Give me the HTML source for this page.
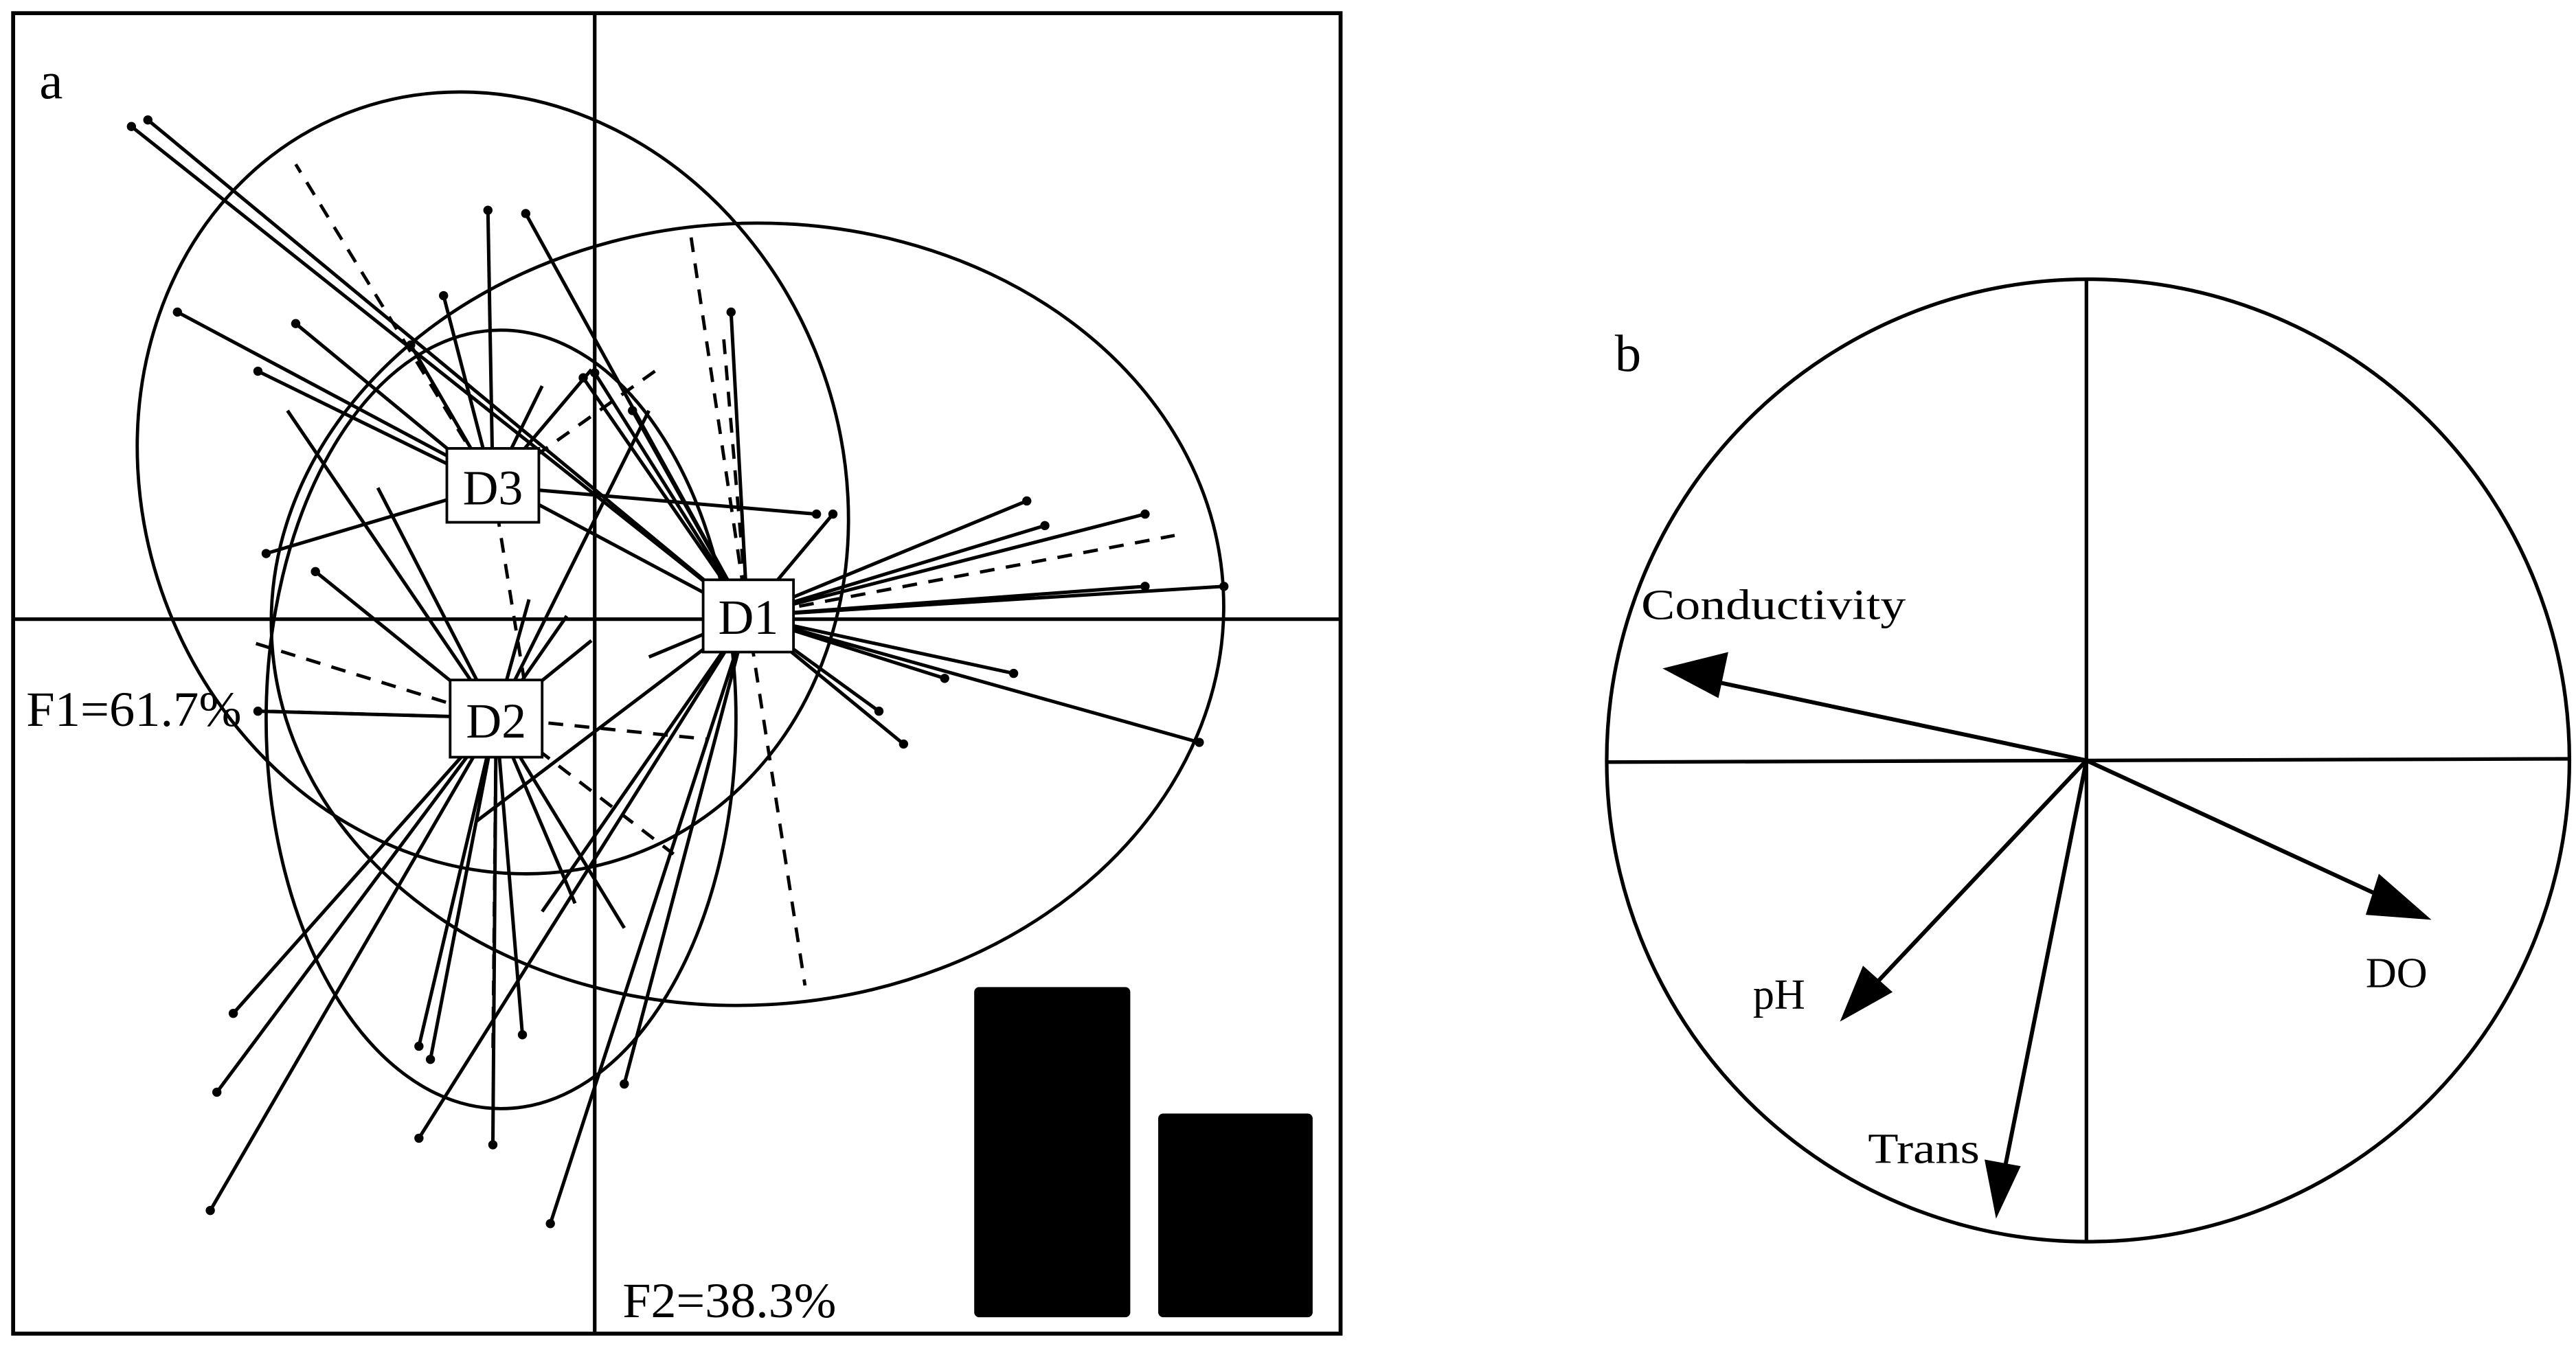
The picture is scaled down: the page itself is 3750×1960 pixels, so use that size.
<!DOCTYPE html>
<html><head><meta charset="utf-8"><style>
html,body{margin:0;padding:0;background:#fff;}
svg{display:block;}
text{font-family:"Liberation Serif",serif;fill:#000;}
</style></head><body>
<svg width="3750" height="1960" viewBox="0 0 1568 819.5" xmlns="http://www.w3.org/2000/svg">
<rect x="0" y="0" width="1568" height="819.5" fill="#fff"/>
<!-- Panel a -->
<rect x="8" y="8" width="808" height="804" fill="none" stroke="#000" stroke-width="2.4"/>
<line x1="362" y1="8" x2="362" y2="812" stroke="#000" stroke-width="2.2"/>
<line x1="8" y1="377" x2="816" y2="377" stroke="#000" stroke-width="2.2"/>
<text x="24" y="60" font-size="32">a</text>

<g fill="none" stroke="#000" stroke-width="2">
<ellipse cx="455" cy="374" rx="290" ry="238" transform="rotate(-3 455 374)"/>
<ellipse cx="300" cy="294" rx="212" ry="242" transform="rotate(-22 300 294)"/>
<ellipse cx="305" cy="438" rx="143" ry="237"/>
</g>

<g stroke="#000" stroke-width="2.1" fill="none">
<path d="M455 375L625 305M455 375L636 320M455 375L697 313M455 375L697 357M455 375L745 357M455 375L730 452M455 375L617 410M455 375L575 413M455 375L550 453M455 375L535 433M455 375L507 313M455 375L445 190M455 375L320 130M455 375L80 77M455 375L90 73M455 375L108 190M455 375L355 230M455 375L385 250M455 375L362 227M455 375L395 400M455 375L330 555M455 375L255 693M455 375L335 745M455 375L380 660M455 375L290 500"/>
<path d="M300 296L157 226M300 296L162 337M300 296L180 197M300 296L270 180M300 296L297 128M300 296L497 313M300 296L330 235M300 296L250 210M300 296L360 225"/>
<path d="M302 437L142 617M302 437L132 665M302 437L128 737M302 437L255 637M302 437L262 645M302 437L300 697M302 437L318 630M302 437L157 433M302 437L175 250M302 437L230 297M302 437L192 348M302 437L322 365M302 437L360 390M302 437L395 250M302 437L380 565M302 437L345 375M302 437L350 550"/>
</g>
<g stroke="#000" stroke-width="2" fill="none" stroke-dasharray="9 7">
<path d="M455 375L715 326M455 375L490 600M455 375L420 140M455 375L440 200M300 296L180 100M300 296L400 225M302 437L300 645M302 437L150 390M302 437L160 433M302 437L430 450M302 437L410 520M300 296L320 420"/>
</g>
<g fill="#000">
<circle cx="625" cy="305" r="2.8"/><circle cx="636" cy="320" r="2.8"/><circle cx="697" cy="313" r="2.8"/><circle cx="697" cy="357" r="2.8"/><circle cx="745" cy="357" r="2.8"/><circle cx="730" cy="452" r="2.8"/><circle cx="617" cy="410" r="2.8"/><circle cx="575" cy="413" r="2.8"/><circle cx="550" cy="453" r="2.8"/><circle cx="535" cy="433" r="2.8"/><circle cx="507" cy="313" r="2.8"/><circle cx="445" cy="190" r="2.8"/><circle cx="320" cy="130" r="2.8"/><circle cx="80" cy="77" r="2.8"/><circle cx="90" cy="73" r="2.8"/><circle cx="108" cy="190" r="2.8"/><circle cx="355" cy="230" r="2.8"/><circle cx="385" cy="250" r="2.8"/><circle cx="362" cy="227" r="2.8"/><circle cx="255" cy="693" r="2.8"/><circle cx="335" cy="745" r="2.8"/><circle cx="380" cy="660" r="2.8"/>
<circle cx="157" cy="226" r="2.8"/><circle cx="162" cy="337" r="2.8"/><circle cx="180" cy="197" r="2.8"/><circle cx="270" cy="180" r="2.8"/><circle cx="297" cy="128" r="2.8"/><circle cx="497" cy="313" r="2.8"/><circle cx="250" cy="210" r="2.8"/>
<circle cx="142" cy="617" r="2.8"/><circle cx="132" cy="665" r="2.8"/><circle cx="128" cy="737" r="2.8"/><circle cx="255" cy="637" r="2.8"/><circle cx="262" cy="645" r="2.8"/><circle cx="300" cy="697" r="2.8"/><circle cx="318" cy="630" r="2.8"/><circle cx="157" cy="433" r="2.8"/><circle cx="192" cy="348" r="2.8"/>
</g>

<g stroke="#000" stroke-width="1.6" fill="#fff">
<rect x="428" y="353" width="55" height="44"/>
<rect x="272" y="273" width="56" height="45"/>
<rect x="274" y="414" width="56" height="47"/>
</g>
<text x="455.5" y="386" font-size="30" text-anchor="middle">D1</text>
<text x="300" y="307" font-size="30" text-anchor="middle">D3</text>
<text x="302" y="449" font-size="30" text-anchor="middle">D2</text>
<text x="16" y="442" font-size="30" textLength="131" lengthAdjust="spacingAndGlyphs">F1=61.7%</text>
<text x="379" y="802" font-size="30" textLength="130" lengthAdjust="spacingAndGlyphs">F2=38.3%</text>
<rect x="593" y="601" width="95" height="201" rx="3" fill="#000"/>
<rect x="705" y="678" width="94" height="124" rx="3" fill="#000"/>

<!-- Panel b -->
<circle cx="1271" cy="463" r="293" fill="none" stroke="#000" stroke-width="2.2"/>
<line x1="1270" y1="170" x2="1270" y2="756" stroke="#000" stroke-width="2.2"/>
<line x1="978" y1="464" x2="1564" y2="462" stroke="#000" stroke-width="2.2"/>
<text x="983" y="226" font-size="32">b</text>
<g stroke="#000" stroke-width="2.5">
<line x1="1270" y1="463" x2="1030" y2="412"/>
<line x1="1270" y1="463" x2="1450" y2="546"/>
<line x1="1270" y1="463" x2="1136" y2="605"/>
<line x1="1270" y1="463" x2="1219" y2="718"/>
</g>
<g fill="#000">
<polygon points="1012,407 1052,397 1046,425"/>
<polygon points="1480,560 1448,532 1440,557"/>
<polygon points="1120,622 1134,588 1152,604"/>
<polygon points="1215,742 1208,706 1230,710"/>
</g>
<text x="999" y="377" font-size="26" textLength="161" lengthAdjust="spacingAndGlyphs">Conductivity</text>
<text x="1067" y="614" font-size="26">pH</text>
<text x="1137" y="708" font-size="26" textLength="68" lengthAdjust="spacingAndGlyphs">Trans</text>
<text x="1440" y="601" font-size="26">DO</text>
</svg>
</body></html>
